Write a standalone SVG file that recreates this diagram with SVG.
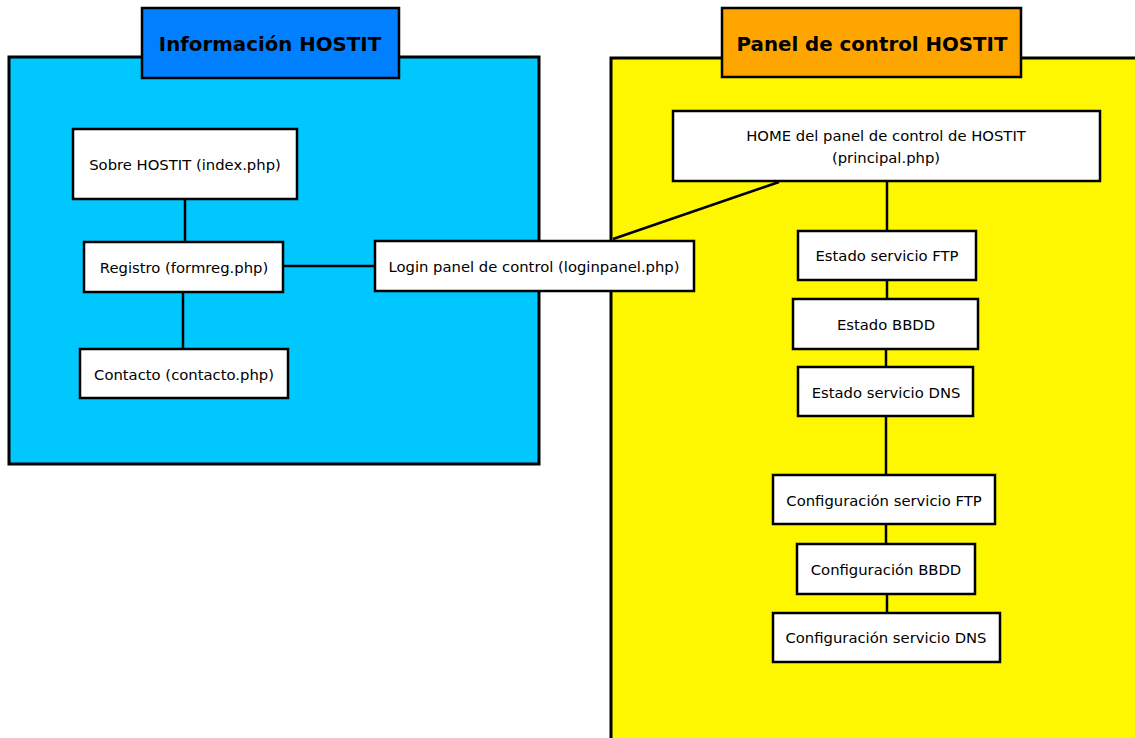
<svg xmlns="http://www.w3.org/2000/svg" width="1135" height="738" viewBox="0 0 1135 738">
<style>
.box{fill:#fff;stroke:#000;stroke-width:2.5}
.t{font-family:"DejaVu Sans",Verdana,sans-serif;font-size:14.8px;fill:#000;text-anchor:middle}
.h{font-family:"DejaVu Sans",Verdana,sans-serif;font-size:19.8px;font-weight:bold;fill:#000;text-anchor:middle}
.c{stroke:#000;stroke-width:2.5;fill:none}
</style>
<rect width="1135" height="738" fill="#fff"/>
<g id="grp-info">
<rect x="9" y="57" width="530" height="407" fill="#00c8ff" stroke="#000" stroke-width="3"/>
</g>
<g id="grp-panel">
<rect x="611" y="58" width="540" height="700" fill="#fff700" stroke="#000" stroke-width="3"/>
</g>
<g id="title-info">
<rect x="142" y="8" width="257" height="70" fill="#0080ff" stroke="#000" stroke-width="2.5"/>
<text class="h" x="270" y="51">Información HOSTIT</text>
</g>
<g id="title-panel">
<rect x="722" y="8" width="299" height="69" fill="#ffa500" stroke="#000" stroke-width="2.5"/>
<text class="h" x="872" y="51">Panel de control HOSTIT</text>
</g>
<g id="connectors">
<line class="c" x1="185" y1="199" x2="185" y2="242"/>
<line class="c" x1="183" y1="292" x2="183" y2="349"/>
<line class="c" x1="283" y1="266" x2="375" y2="266"/>
<line class="c" x1="613" y1="239" x2="779" y2="182"/>
<line class="c" x1="887" y1="181" x2="887" y2="231"/>
<line class="c" x1="887" y1="280" x2="887" y2="299"/>
<line class="c" x1="886" y1="349" x2="886" y2="367"/>
<line class="c" x1="886" y1="416" x2="886" y2="475"/>
<line class="c" x1="886" y1="524" x2="886" y2="544"/>
<line class="c" x1="887" y1="594" x2="887" y2="613"/>
</g>
<g id="n-sobre">
<rect class="box" x="73" y="129" width="224" height="70"/>
<text class="t" x="185" y="170">Sobre HOSTIT (index.php)</text>
</g>
<g id="n-registro">
<rect class="box" x="84" y="242" width="199" height="50"/>
<text class="t" x="184" y="273">Registro (formreg.php)</text>
</g>
<g id="n-contacto">
<rect class="box" x="80" y="349" width="208" height="49"/>
<text class="t" x="184" y="380">Contacto (contacto.php)</text>
</g>
<g id="n-login">
<rect class="box" x="375" y="241" width="319" height="50"/>
<text class="t" x="534" y="272">Login panel de control (loginpanel.php)</text>
</g>
<g id="n-home">
<rect class="box" x="673" y="111" width="427" height="70"/>
<text class="t" x="886" y="141">HOME del panel de control de HOSTIT</text>
<text class="t" x="886" y="163">(principal.php)</text>
</g>
<g id="n-estado-ftp">
<rect class="box" x="798" y="231" width="178" height="49"/>
<text class="t" x="887" y="261">Estado servicio FTP</text>
</g>
<g id="n-estado-bbdd">
<rect class="box" x="793" y="299" width="185" height="50"/>
<text class="t" x="886" y="330">Estado BBDD</text>
</g>
<g id="n-estado-dns">
<rect class="box" x="798" y="367" width="175" height="49"/>
<text class="t" x="886" y="398">Estado servicio DNS</text>
</g>
<g id="n-config-ftp">
<rect class="box" x="773" y="475" width="222" height="49"/>
<text class="t" x="884" y="506">Configuración servicio FTP</text>
</g>
<g id="n-config-bbdd">
<rect class="box" x="797" y="544" width="178" height="50"/>
<text class="t" x="886" y="575">Configuración BBDD</text>
</g>
<g id="n-config-dns">
<rect class="box" x="773" y="613" width="227" height="49"/>
<text class="t" x="886" y="643">Configuración servicio DNS</text>
</g>
</svg>
